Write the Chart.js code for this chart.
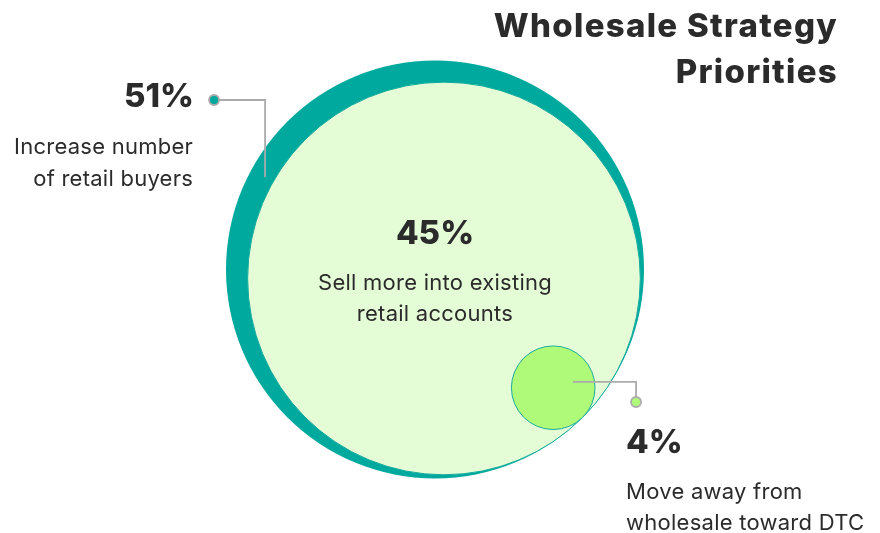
<!DOCTYPE html>
<html>
<head>
<meta charset="utf-8">
<title>Wholesale Strategy Priorities</title>
<script src="https://cdn.jsdelivr.net/npm/chart.js@4.4.1/dist/chart.umd.min.js"></script>
<style>
  html, body { margin: 0; padding: 0; background: #fff; }
  #wrap { width: 880px; height: 533px; position: relative; }
</style>
</head>
<body>
<div id="wrap"><canvas id="priorityChart"></canvas></div>
<script>
const titleLines = ['Wholesale Strategy', 'Priorities'];
const shares = [51, 45, 4];
const shareLabels = ['51%', '45%', '4%'];
const descriptions = [
  ['Increase number', 'of retail buyers'],
  ['Sell more into existing', 'retail accounts'],
  ['Move away from', 'wholesale toward DTC']
];

const fillColors = ['#00a99e', '#e4fdd6', '#affa78'];
const edgeColors = ['#00a99e', '#12aa9e', '#1aab9f'];
const edgeWidths = [0, 1, 1];
const ink = '#2b2b2b';
const leaderGray = '#ababab';
const fontFamily = 'Inter, "Noto Sans", sans-serif';

// one unit = radius of the outer ring, in pixels
const ringPx = 209;
const originX = 435;
const originY = 269.5;

// inner bubbles scaled by area against the outer ring
const radii = [1, Math.sqrt(shares[1] / shares[0]), Math.sqrt(shares[2] / 100)];

// each bubble sits inside the previous one, touching it towards the lower right
const bubbles = [];
let cx = 0, cy = 0;
radii.forEach((r, i) => {
  if (i > 0) {
    const d = radii[i - 1] - r;
    cx += d * Math.SQRT1_2;
    cy -= d * Math.SQRT1_2;
  }
  bubbles.push({ x: cx, y: cy, r: r * ringPx });
});

const calloutPlugin = {
  id: 'callouts',
  afterDatasetsDraw(chart) {
    const { ctx } = chart;
    const sx = chart.scales.x, sy = chart.scales.y;
    const px = (x, y) => [sx.getPixelForValue(x), sy.getPixelForValue(y)];

    function leader(path, dotAt, dotFill) {
      ctx.save();
      ctx.strokeStyle = leaderGray;
      ctx.lineWidth = 1.8;
      ctx.beginPath();
      path.forEach((p, i) => {
        const [x, y] = px(p[0], p[1]);
        i ? ctx.lineTo(x, y) : ctx.moveTo(x, y);
      });
      ctx.stroke();
      const [dx, dy] = px(dotAt[0], dotAt[1]);
      ctx.beginPath();
      ctx.arc(dx, dy, 5, 0, Math.PI * 2);
      ctx.fillStyle = dotFill;
      ctx.fill();
      ctx.stroke();
      ctx.restore();
      return [dx, dy];
    }

    function text(lines, x, y, step, weight, size, align, spacing) {
      ctx.save();
      ctx.fillStyle = ink;
      ctx.font = weight + ' ' + size + 'px ' + fontFamily;
      ctx.letterSpacing = (spacing || 0) + 'px';
      ctx.textAlign = align;
      ctx.textBaseline = 'alphabetic';
      lines.forEach((l, i) => ctx.fillText(l, x, y + i * step));
      ctx.restore();
    }

    // title, top right
    text(titleLines, 838, 37, 46, 800, 33, 'right', 1.3);

    // outer ring: callout to the left
    const p0 = [[-1.057, 0.811], [-0.813, 0.811], [-0.813, 0.443]];
    const [ax, ay] = leader(p0, p0[0], fillColors[0]);
    text([shareLabels[0]], ax - 20, ay + 7, 0, 800, 33, 'right');
    text(descriptions[0], ax - 21, ay + 54, 32, 400, 22, 'right', 0.25);

    // middle bubble: label sits inside
    const [mx] = px(0, 0);
    text([shareLabels[1]], mx, 244, 0, 800, 33, 'center');
    text(descriptions[1], mx, 290, 31, 400, 22, 'center', 0.25);

    // small bubble: callout to the lower right
    const p2 = [[0.660, -0.538], [0.962, -0.538], [0.962, -0.634]];
    const [bx, by] = leader(p2, p2[2], fillColors[2]);
    text([shareLabels[2]], bx - 10, by + 51, 0, 800, 33, 'left');
    text(descriptions[2], bx - 10, by + 97, 31, 400, 22, 'left', 0.25);
  }
};

new Chart(document.getElementById('priorityChart'), {
  type: 'bubble',
  data: {
    datasets: [{
      data: bubbles,
      backgroundColor: fillColors,
      borderColor: edgeColors,
      borderWidth: edgeWidths,
      clip: false
    }]
  },
  options: {
    responsive: true,
    maintainAspectRatio: false,
    animation: false,
    events: [],
    layout: { padding: 0, autoPadding: false },
    plugins: {
      legend: { display: false },
      tooltip: { enabled: false }
    },
    scales: {
      x: { display: false, min: -originX / ringPx, max: (880 - originX) / ringPx },
      y: { display: false, min: -(533 - originY) / ringPx, max: originY / ringPx }
    }
  },
  plugins: [calloutPlugin]
});
</script>
</body>
</html>
